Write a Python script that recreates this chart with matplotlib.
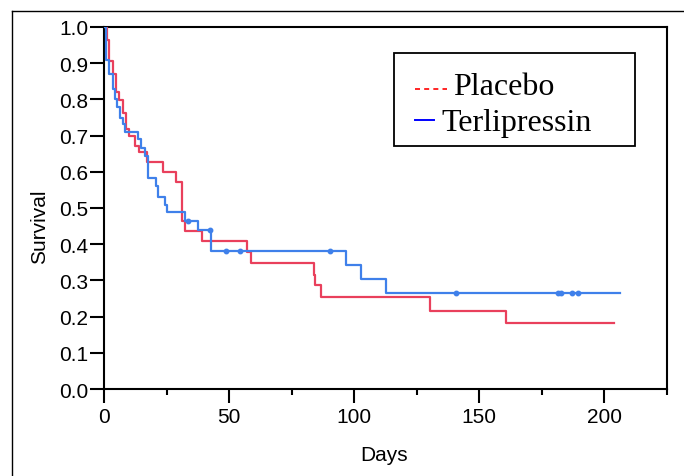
import matplotlib
matplotlib.use('Agg')
import matplotlib.pyplot as plt
import numpy as np
from matplotlib.lines import Line2D
from matplotlib.patches import Rectangle

plt.rcParams['font.family'] = ['Liberation Sans', 'DejaVu Sans']

# Kaplan-Meier steps (day of step, survival after step)
placebo_days = [0, 1.1, 2.0, 3.7, 4.8, 6.1, 7.7, 8.8, 10.1, 12.4, 14.1, 17.0, 23.7,
                28.6, 31.0, 32.3, 39.0, 57.2, 58.7, 83.8, 84.5, 86.9, 130.1, 160.5, 204]
placebo_surv = [1.0, 0.965, 0.907, 0.870, 0.821, 0.798, 0.762, 0.718, 0.698, 0.672, 0.654, 0.626, 0.599,
                0.571, 0.465, 0.437, 0.41, 0.378, 0.348, 0.315, 0.288, 0.253, 0.216, 0.182, 0.182]

terli_days = [0, 0.8, 2.0, 3.5, 4.4, 5.0, 6.4, 7.5, 8.4, 13.5, 14.7, 16.4, 17.5, 20.8,
              21.7, 24.4, 25.0, 32.3, 37.4, 42.7, 96.6, 102.9, 112.6, 206.3]
terli_surv = [1.0, 0.91, 0.87, 0.829, 0.80, 0.778, 0.75, 0.732, 0.709, 0.69, 0.665, 0.645, 0.582, 0.56,
              0.531, 0.508, 0.488, 0.465, 0.438, 0.381, 0.343, 0.304, 0.266, 0.266]
terli_censor = [33.4, 42.3, 48.7, 54.3, 90.2, 140.8, 181.4, 182.7, 187.1, 189.6]

red = '#E9405C'
blue = '#3F80EA'

fig = plt.figure(figsize=(6.84, 4.77), dpi=100)
ax = fig.add_axes([104/684, 1-390/477, 563/684, 362/477])

ax.step(placebo_days, placebo_surv, where='post', color=red, lw=1.6, zorder=3)
ax.step(terli_days, terli_surv, where='post', color=blue, lw=1.6, zorder=4)

# censor marks sit on the step value at that day
td = np.array(terli_days)
ts = np.array(terli_surv)
cs = ts[np.searchsorted(td, terli_censor, side='right') - 1]
ax.plot(terli_censor, cs, 'o', color=blue, ms=3.2, zorder=5)

ax.set_xlim(0, 225)
ax.set_ylim(0, 1.0)
ax.set_xticks([0, 50, 100, 150, 200])
ax.set_xticks([25, 75, 125, 175, 225], minor=True)
ax.set_yticks(np.arange(0, 1.01, 0.1))
ax.set_yticklabels(['%.1f' % v for v in np.arange(0, 1.01, 0.1)])
ax.tick_params(axis='both', which='major', direction='out', length=10, width=1.5,
               labelsize=15, pad=3)
ax.tick_params(axis='y', which='major', pad=1.5)
ax.tick_params(axis='x', which='minor', direction='out', length=4.5, width=1.5)
for s in ax.spines.values():
    s.set_linewidth(1.5)

ax.set_xlabel('Days', fontsize=15, va='center')
ax.set_ylabel('Survival', fontsize=15, va='center')
ax.xaxis.set_label_coords(0.497, -0.18)
ax.yaxis.set_label_coords(-0.114, 0.45)

# legend box
ax.add_patch(Rectangle((0.515, 0.671), 0.428, 0.257, transform=ax.transAxes,
                       fill=False, ec='black', lw=1.3, zorder=6))
ax.plot([0.552, 0.609], [0.829, 0.829], transform=ax.transAxes, color='red',
        lw=1.2, ls=(0, (3, 2.5)), zorder=6)
ax.plot([0.552, 0.586], [0.743, 0.743], transform=ax.transAxes, color='blue',
        lw=1.4, zorder=6)
ax.text(0.620, 0.815, 'Placebo', transform=ax.transAxes, family='Liberation Serif',
        fontsize=23, va='baseline', ha='left')
ax.text(0.600, 0.716, 'Terlipressin', transform=ax.transAxes, family='Liberation Serif',
        fontsize=23, va='baseline', ha='left')

# outer frame (only top and left edges visible)
fig.add_artist(Line2D([11.5/684, 1.0], [1-11.5/477, 1-11.5/477], color='black', lw=1.0))
fig.add_artist(Line2D([11.5/684, 11.5/684], [0, 1-11.5/477], color='black', lw=1.0))

fig.savefig('out.png', dpi=100)
